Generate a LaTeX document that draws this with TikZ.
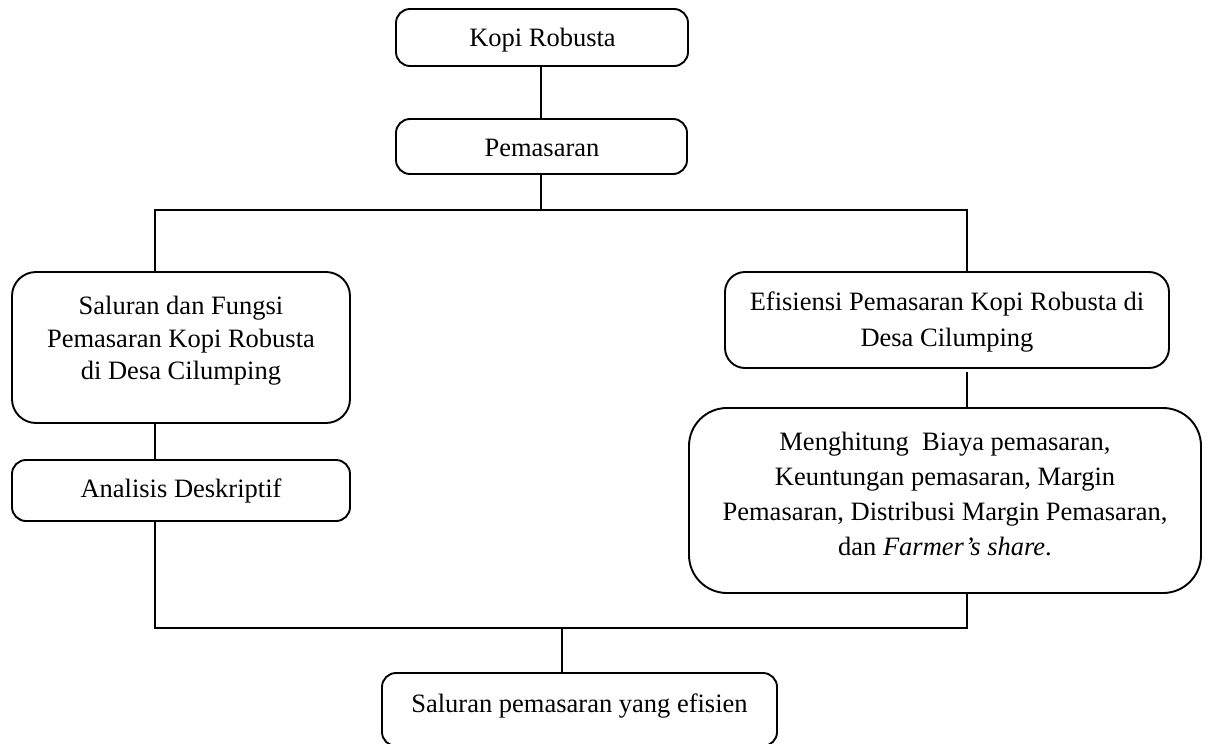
\documentclass[tikz,border=0pt]{standalone}
\usepackage{fontspec}
\setmainfont{Liberation Serif}
\begin{document}
\begin{tikzpicture}[x=1pt,y=-1pt,line width=1.9pt,
  box/.style={draw,rectangle,rounded corners=#1,inner sep=0pt},
  box/.default=14pt,
  txt/.style={font=\fontsize{26.5}{32.5}\selectfont,align=center,inner sep=0pt}]
\useasboundingbox (0,0) rectangle (1210,744);
\fill[white] (0,0) rectangle (1210,744);
\clip (0,0) rectangle (1210,744);
% boxes
\node[box=14pt,minimum width=292pt,minimum height=57pt] (kopi) at (542,37.5) {};
\node[box=14pt,minimum width=291pt,minimum height=55pt] (pem) at (541.5,146.5) {};
\node[box=24pt,minimum width=338pt,minimum height=151pt] (sal) at (181,347.5) {};
\node[box=14pt,minimum width=338pt,minimum height=61pt] (ana) at (181,490.5) {};
\node[box=20pt,minimum width=444pt,minimum height=96pt] (ef) at (947,320) {};
\node[box=38pt,minimum width=512pt,minimum height=185pt] (meng) at (945,500.5) {};
\node[box=14pt,minimum width=395pt,minimum height=73pt] (fin) at (579.5,709.5) {};
% texts
\node[txt,anchor=base] (kopiT) at (542.5,46) {Kopi Robusta};
\node[txt,anchor=base] (pemT) at (542,156.5) {Pemasaran};
\node[txt] (salT) at (181,341) {Saluran dan Fungsi\\Pemasaran Kopi Robusta\\di Desa Cilumping};
\node[txt,font=\fontsize{26.5}{36}\selectfont] (efT) at (947,322) {Efisiensi Pemasaran Kopi Robusta di\\Desa Cilumping};
\node[txt,font=\fontsize{26.5}{35}\selectfont] (mengT) at (945,494) {Menghitung\ \ Biaya pemasaran,\\Keuntungan pemasaran, Margin\\Pemasaran, Distribusi Margin Pemasaran,\\dan \textit{Farmer’s share}.};
\node[txt,anchor=base] (anaT) at (181,497) {Analisis Deskriptif};
\node[txt,anchor=base] (finT) at (579.5,712) {Saluran pemasaran yang efisien};
% junctions
\coordinate (jt) at (541,210);
\coordinate (jl) at (155,210);
\coordinate (jr) at (967,210);
\coordinate (bl) at (155,628);
\coordinate (br) at (967,628);
\coordinate (bm) at (562,628);
\coordinate (efgap) at (967,372);
% connectors
\draw (jt |- kopi.south) -- (jt |- pem.north);
\draw (jt |- pem.south) -- (jt);
\draw (jl |- sal.north) -- (jl) -- (jr) -- (jr |- ef.north);
\draw (jl |- sal.south) -- (jl |- ana.north);
\draw (efgap) -- (jr |- meng.north);
\draw (jl |- ana.south) -- (bl) -- (br) -- (br |- meng.south);
\draw (bm) -- (bm |- fin.north);
\end{tikzpicture}
\end{document}
